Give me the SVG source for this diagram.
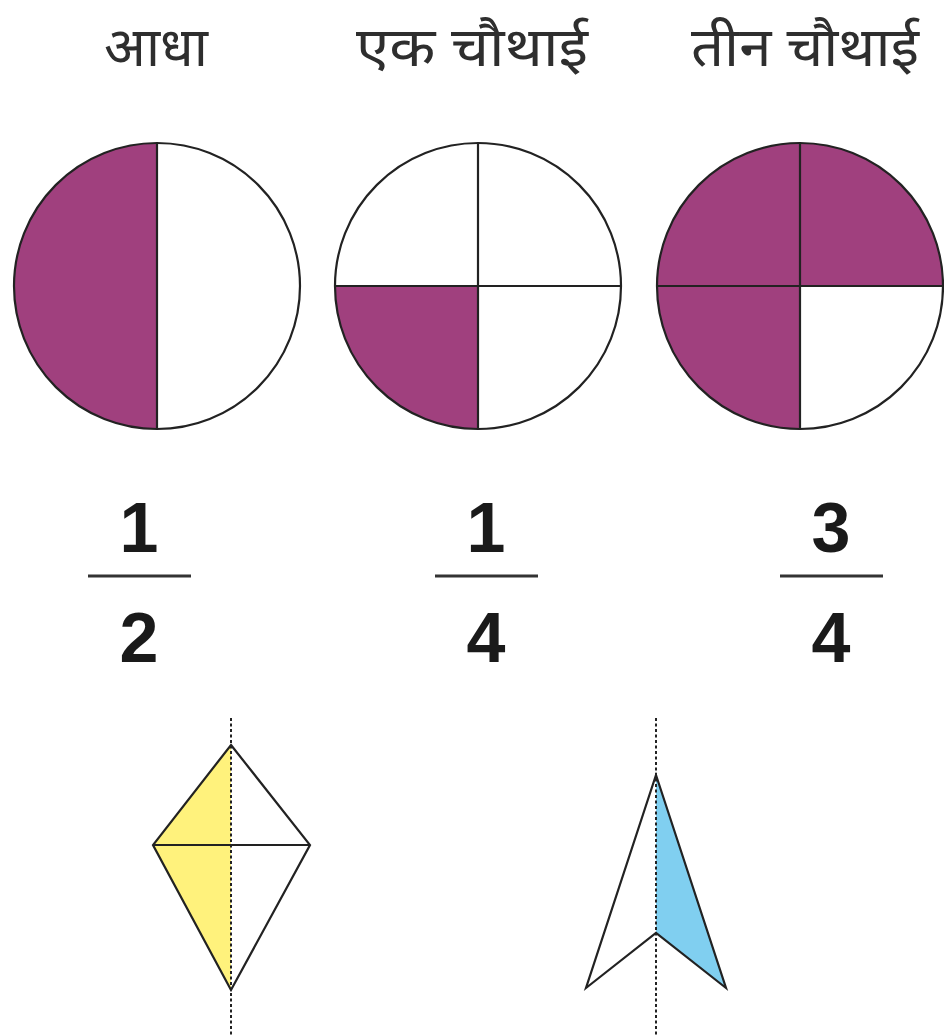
<svg xmlns="http://www.w3.org/2000/svg" width="944" height="1036" viewBox="0 0 944 1036">
<style>
.lbl{font-family:"Noto Sans Devanagari","Noto Sans","Lohit Devanagari","FreeSans",sans-serif;font-size:54px;fill:#2e2e2e;text-anchor:middle}
.num{font-family:"Liberation Sans",Arial,sans-serif;font-weight:bold;font-size:70px;fill:#1a1a1a;text-anchor:middle}
.ol{fill:none;stroke:#222;stroke-width:2.2}
.bar{stroke:#333;stroke-width:3}
.pur{fill:#a0407e}
.dash{stroke:#222;stroke-width:2;stroke-dasharray:3 2.5;fill:none}
</style>
<rect width="944" height="1036" fill="#fff"/>
<g id="label-half"><text class="lbl" x="156" y="66" textLength="104" lengthAdjust="spacingAndGlyphs">आधा</text></g>
<g id="label-quarter"><text class="lbl" x="472" y="66" textLength="232" lengthAdjust="spacingAndGlyphs">एक चौथाई</text></g>
<g id="label-three-quarter"><text class="lbl" x="805" y="66" textLength="228" lengthAdjust="spacingAndGlyphs">तीन चौथाई</text></g>

<g id="circle-half">
<path class="pur" d="M157,143 A143,143 0 0 0 157,429 Z"/>
<circle class="ol" cx="157" cy="286" r="143"/>
<line class="ol" x1="157" y1="143" x2="157" y2="429"/>
</g>
<g id="circle-quarter">
<path class="pur" d="M478,286 L335,286 A143,143 0 0 0 478,429 Z"/>
<circle class="ol" cx="478" cy="286" r="143"/>
<line class="ol" x1="478" y1="143" x2="478" y2="429"/>
<line class="ol" x1="335" y1="286" x2="621" y2="286"/>
</g>
<g id="circle-three-quarter">
<path class="pur" d="M800,286 L943,286 A143,143 0 0 0 800,143 A143,143 0 0 0 657,286 A143,143 0 0 0 800,429 Z"/>
<circle class="ol" cx="800" cy="286" r="143"/>
<line class="ol" x1="800" y1="143" x2="800" y2="429"/>
<line class="ol" x1="657" y1="286" x2="943" y2="286"/>
</g>

<g id="fraction-half">
<text class="num" x="139" y="552">1</text>
<line class="bar" x1="88" y1="576" x2="191" y2="576"/>
<text class="num" x="139" y="662">2</text>
</g>
<g id="fraction-quarter">
<text class="num" x="486" y="552">1</text>
<line class="bar" x1="435" y1="576" x2="538" y2="576"/>
<text class="num" x="486" y="662">4</text>
</g>
<g id="fraction-three-quarter">
<text class="num" x="831" y="552">3</text>
<line class="bar" x1="780" y1="576" x2="883" y2="576"/>
<text class="num" x="831" y="662">4</text>
</g>

<g id="kite">
<polygon points="231,745 153,845 231,990" fill="#fff27c"/>
<polygon class="ol" points="231,745 310,845 231,990 153,845"/>
<line class="ol" x1="153" y1="845" x2="310" y2="845"/>
<line class="dash" x1="231" y1="718" x2="231" y2="1036"/>
</g>
<g id="arrow">
<polygon points="656,775 726,988 656,933" fill="#80cff0"/>
<polygon class="ol" points="656,775 726,988 656,933 586,988"/>
<line class="dash" x1="656" y1="718" x2="656" y2="1036"/>
</g>
</svg>
